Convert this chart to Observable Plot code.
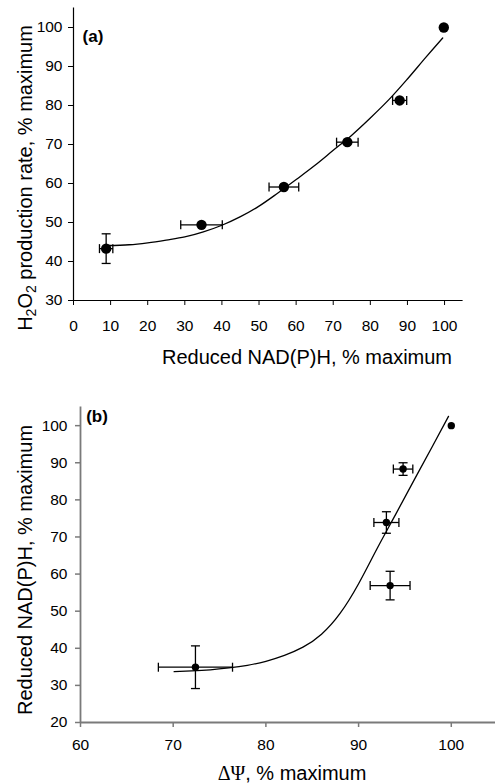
<!DOCTYPE html>
<html>
<head>
<meta charset="utf-8">
<script src="https://cdn.jsdelivr.net/npm/d3@7"></script>
<script src="https://cdn.jsdelivr.net/npm/@observablehq/plot@0.6"></script>
<style>
  html, body { margin: 0; padding: 0; background: #fff; }
  #chart { width: 495px; height: 783px; overflow: hidden; }
  #chart svg { display: block; }
</style>
</head>
<body>
<div id="chart"></div>
<script>
// ---------- Panel (a) data ----------
const aX     = [8.8, 34.5, 56.7, 73.8, 87.9, 99.8];
const aY     = [43.3, 49.4, 59.1, 70.6, 81.3, 100];
const aXerr  = [1.8, 5.6, 4.0, 2.9, 1.9, 0];
const aYerr  = [3.8, 0, 0, 0, 0, 0];
const aCurveX = [9, 15, 20, 25, 30, 35, 40, 45, 50, 55, 60, 65, 70, 75, 80, 85, 90, 95, 99.5];
const aCurveY = [44.1, 44.3, 44.8, 45.5, 46.3, 47.6, 49.3, 51.5, 54.2, 57.5, 61.0, 64.6, 68.5, 72.4, 76.8, 81.5, 86.8, 92.4, 97.3];
const aXTicks = [0, 10, 20, 30, 40, 50, 60, 70, 80, 90, 100];
const aYTicks = [30, 40, 50, 60, 70, 80, 90, 100];

// ---------- Panel (b) data ----------
const bX     = [72.4, 93.4, 93.0, 94.8, 100];
const bY     = [34.9, 56.9, 73.9, 88.3, 100];
const bXerr  = [4.0, 2.15, 1.35, 1.05, 0];
const bYerr  = [5.75, 3.85, 2.9, 1.7, 0];
const bCurveX = [70.1, 72, 74, 76, 78, 80, 82, 84, 86, 88, 90, 92, 94, 96, 98, 99.7];
const bCurveY = [33.7, 33.9, 34.2, 34.7, 35.4, 36.5, 38.1, 40.3, 43.8, 49.4, 57.4, 66.9, 76.1, 85.4, 94.6, 102.5];
const bXTicks = [60, 70, 80, 90, 100];
const bYTicks = [20, 30, 40, 50, 60, 70, 80, 90, 100];

const FONT = "'Liberation Sans', Arial, Helvetica, sans-serif";

function rows(xs, ys, xe, ye) {
  return xs.map((x, i) => ({x, y: ys[i], xe: xe[i], ye: ye[i]}));
}
function curveRows(xs, ys) { return xs.map((x, i) => ({x, y: ys[i]})); }

const vcap = {draw(ctx) { ctx.moveTo(0, -4.5); ctx.lineTo(0, 4.5); }};
const hcap = {draw(ctx) { ctx.moveTo(-4.5, 0); ctx.lineTo(4.5, 0); }};

function errorMarks(data) {
  const hx = data.filter(d => d.xe > 0);
  const vy = data.filter(d => d.ye > 0);
  return [
    Plot.link(hx, {x1: d => d.x - d.xe, x2: d => d.x + d.xe, y1: "y", y2: "y", stroke: "black", strokeWidth: 1.3}),
    Plot.dot(hx, {x: d => d.x - d.xe, y: "y", symbol: vcap, stroke: "black", strokeWidth: 1.3, fill: "none"}),
    Plot.dot(hx, {x: d => d.x + d.xe, y: "y", symbol: vcap, stroke: "black", strokeWidth: 1.3, fill: "none"}),
    Plot.link(vy, {x1: "x", x2: "x", y1: d => d.y - d.ye, y2: d => d.y + d.ye, stroke: "black", strokeWidth: 1.3}),
    Plot.dot(vy, {x: "x", y: d => d.y - d.ye, symbol: hcap, stroke: "black", strokeWidth: 1.3, fill: "none"}),
    Plot.dot(vy, {x: "x", y: d => d.y + d.ye, symbol: hcap, stroke: "black", strokeWidth: 1.3, fill: "none"})
  ];
}

const chart = document.getElementById("chart");

// ---------- Panel (a) ----------
const aData = rows(aX, aY, aXerr, aYerr);
const plotA = Plot.plot({
  width: 495, height: 370,
  marginLeft: 73, marginRight: 32.4, marginTop: 7.5, marginBottom: 70,
  x: {domain: [0, 105]},
  y: {domain: [30, 105]},
  style: {fontFamily: FONT, fontSize: "15.5px", color: "black", background: "white", overflow: "visible"},
  marks: [
    Plot.axisX({ticks: aXTicks, tickSize: 5, tickPadding: 14, label: null, stroke: "black", fontSize: 15.5}),
    Plot.axisY({ticks: aYTicks, tickSize: 5, tickPadding: 6, label: null, stroke: "black", fontSize: 15.5}),
    Plot.ruleX([0], {stroke: "black", strokeWidth: 1.2}),
    Plot.ruleY([30], {stroke: "black", strokeWidth: 1.2}),
    Plot.line(curveRows(aCurveX, aCurveY), {x: "x", y: "y", stroke: "black", strokeWidth: 1.3, curve: "catmull-rom"}),
    ...errorMarks(aData),
    Plot.dot(aData, {x: "x", y: "y", r: 5.2, fill: "black", stroke: "none"})
  ]
});
chart.appendChild(plotA);

{
  const svg = d3.select(plotA);
  svg.append("text").attr("x", 93).attr("y", 42)
    .attr("font-family", FONT).attr("font-size", 17).attr("font-weight", "bold")
    .text("(a)");
  svg.append("text").attr("x", 307).attr("y", 364).attr("text-anchor", "middle")
    .attr("font-family", FONT).attr("font-size", 20)
    .text("Reduced NAD(P)H, % maximum");
  const t = svg.append("text")
    .attr("transform", "translate(32,178) rotate(-90)")
    .attr("text-anchor", "middle")
    .attr("font-family", FONT).attr("font-size", 20);
  t.append("tspan").text("H");
  t.append("tspan").attr("font-size", 14).attr("dy", 4).text("2");
  t.append("tspan").attr("dy", -4).text("O");
  t.append("tspan").attr("font-size", 14).attr("dy", 4).text("2");
  t.append("tspan").attr("dy", -4).text(" production rate, % maximum");
}

// ---------- Panel (b) ----------
const bData = rows(bX, bY, bXerr, bYerr);
const GRAY = "#7a7a7a";
const plotB = Plot.plot({
  width: 495, height: 413,
  marginLeft: 80, marginRight: 0, marginTop: 36.6, marginBottom: 61,
  x: {domain: [60, 104.77]},
  y: {domain: [20, 105]},
  style: {fontFamily: FONT, fontSize: "15.5px", color: "black", background: "white", overflow: "visible"},
  marks: [
    Plot.axisX({ticks: bXTicks, tickSize: 5, tickPadding: 11, label: null, stroke: GRAY, strokeWidth: 1.5, fontSize: 15.5}),
    Plot.axisY({ticks: bYTicks, tickSize: 5, tickPadding: 8, label: null, stroke: GRAY, strokeWidth: 1.5, fontSize: 15.5}),
    Plot.ruleX([60], {stroke: GRAY, strokeWidth: 1.8}),
    Plot.ruleY([20], {stroke: GRAY, strokeWidth: 1.8}),
    Plot.line(curveRows(bCurveX, bCurveY), {x: "x", y: "y", stroke: "black", strokeWidth: 1.3, curve: "natural"}),
    ...errorMarks(bData),
    Plot.dot(bData, {x: "x", y: "y", r: 3.7, fill: "black", stroke: "none"})
  ]
});
chart.appendChild(plotB);

{
  const svg = d3.select(plotB);
  svg.append("text").attr("x", 97).attr("y", 52)
    .attr("font-family", FONT).attr("font-size", 17).attr("font-weight", "bold")
    .text("(b)");
  const xt = svg.append("text").attr("x", 292).attr("y", 410).attr("text-anchor", "middle")
    .attr("font-family", FONT).attr("font-size", 20);
  xt.append("tspan").attr("font-family", "'Liberation Serif', 'Times New Roman', serif").text("ΔΨ");
  xt.append("tspan").text(", % maximum");
  svg.append("text")
    .attr("transform", "translate(32,200) rotate(-90)")
    .attr("text-anchor", "middle")
    .attr("font-family", FONT).attr("font-size", 20)
    .text("Reduced NAD(P)H, % maximum");
}
</script>
</body>
</html>
